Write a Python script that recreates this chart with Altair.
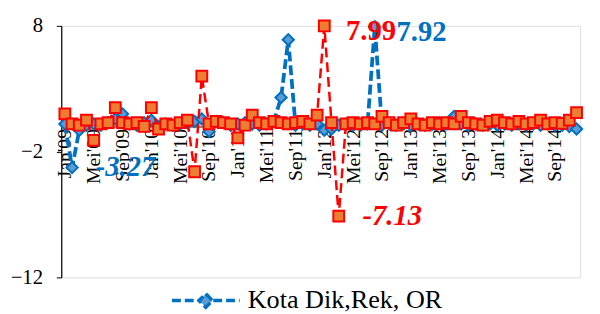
import json
import altair as alt
import pandas as pd

# ---- data -------------------------------------------------------------
month_names = ["Jan", "Feb", "Mar", "Apr", "Mei", "Jun", "Jul", "Agu", "Sep", "Okt", "Nov", "Des"]
years = ["09", "10", "11", "12", "13", "14"]
month_labels = [f"{m}'{y}" for y in years for m in month_names]
tick_positions = [0, 4, 8, 12, 16, 20, 24, 28, 32, 36, 40, 44, 48, 52, 56, 60, 64, 68]

blue_name = "Kota Dik,Rek, OR"
red_name = "Series 2"

blue_values = [0.2, -3.27, -0.3, 0.1, 0.2, 0.1, 0.3, 0.6, 1.0, 0.2, 0.1, 0.3,
               0.5, 0.0, 0.2, 0.1, 0.2, 0.3, 0.4, 0.6, -0.4, 0.4, 0.3, 0.1,
               0.2, 0.3, 0.2, 0.1, 0.2, 0.4, 2.3, 6.9, 0.1, 0.2, 0.1, 0.2,
               -0.3, -0.2, 0.1, 0.2, 0.1, 0.1, 0.2, 7.92, 0.1, 0.2, 0.1, 0.2,
               0.1, 0.2, 0.1, 0.2, 0.3, 0.2, 0.8, 0.2, 0.1, 0.2, 0.1, 0.2,
               0.1, 0.2, 0.1, 0.2, 0.1, 0.2, 0.1, 0.2, 0.1, 0.1, 0.0, -0.2]

red_values = [1.0, 0.2, 0.1, 0.5, -1.1, 0.2, 0.3, 1.5, 0.3, 0.2, 0.3, 0.0,
              1.5, -0.2, 0.2, 0.1, 0.3, 0.5, -3.6, 4.0, 0.2, 0.4, 0.3, 0.2,
              -0.9, 0.1, 0.9, 0.3, 0.2, 0.4, 0.3, 0.2, 0.3, 0.4, 0.2, 0.9,
              7.99, 0.3, -7.13, 0.2, 0.3, 0.2, 0.3, 0.2, 0.8, 0.3, 0.1, 0.3,
              0.6, 0.2, 0.1, 0.3, 0.2, 0.3, 0.2, 0.8, 0.3, 0.2, 0.1, 0.4,
              0.5, 0.3, 0.2, 0.4, 0.2, 0.3, 0.5, 0.2, 0.3, 0.25, 0.5, 1.1]

# annotated points: (series, index)
labels_pos = [(blue_name, 43), (red_name, 36)]
labels_neg = [(blue_name, 1), (red_name, 38)]

BLUE = "#0070C0"
BLUE_FILL = "#5B9BD5"
RED = "#FF0000"
ORANGE = "#ED7D31"
FONT = "Liberation Serif"

idx = list(range(len(month_labels)))
blue_df = pd.DataFrame({"idx": idx, "value": blue_values, "series": blue_name})
red_df = pd.DataFrame({"idx": idx, "value": red_values, "series": red_name})


def pick(pairs):
    rows = []
    for s, i in pairs:
        v = blue_values[i] if s == blue_name else red_values[i]
        rows.append({"idx": i, "value": v, "series": s, "label": f"{v:.2f}"})
    return pd.DataFrame(rows)


pos_df = pick(labels_pos)
neg_df = pick(labels_neg)

# ---- scales/axes ------------------------------------------------------
W, H = 526, 255
xscale = alt.Scale(domain=[-0.5, 71.5], nice=False, zero=False)
yscale = alt.Scale(domain=[-12, 8], nice=False, zero=False)
zero_off = -(H - H * 8 / 20)

x_axis = alt.Axis(
    values=tick_positions,
    labelExpr=json.dumps(month_labels) + "[datum.value]",
    labelAngle=-90, labelFont=FONT, labelFontSize=20, labelColor="black",
    labelPadding=2, tickSize=0, domainColor="black", domainWidth=1,
    grid=False, title=None, offset=zero_off, labelOverlap=False,
)
y_axis = alt.Axis(
    values=[-12, -2, 8], labelFont=FONT, labelFontSize=21, labelColor="black",
    tickSize=5, tickColor="black", domainColor="black", domainWidth=1.2,
    labelPadding=14, grid=False, title=None,
)

X = alt.X("idx:Q", scale=xscale, axis=x_axis)
Y = alt.Y("value:Q", scale=yscale, axis=y_axis)

legend_symbol = "M-1,0L-0.22,0M0.22,0L1,0M0,-0.2L0.2,0L0,0.2L-0.2,0Z"

blue_line = alt.Chart(blue_df).mark_line(
    strokeDash=[10, 4], strokeWidth=3.8
).encode(
    x=X, y=Y,
    color=alt.Color("series:N",
                    scale=alt.Scale(domain=[blue_name], range=[BLUE]),
                    legend=alt.Legend(
                        title=None, orient="none", legendX=110, legendY=242,
                        symbolType=legend_symbol, symbolSize=4700,
                        symbolStrokeWidth=3.5, symbolDash=[9, 4],
                        symbolFillColor=BLUE_FILL, symbolStrokeColor=BLUE,
                        labelFont=FONT, labelFontSize=26.5, labelColor="black",
                        labelLimit=0, labelOffset=6,
                    )),
)
blue_pts = alt.Chart(blue_df).mark_point(
    shape="diamond", filled=True, size=130, fill=BLUE_FILL, stroke=BLUE,
    strokeWidth=2, opacity=1
).encode(x=X, y=Y)

red_line = alt.Chart(red_df).mark_line(
    strokeDash=[10, 5], strokeWidth=2.5, color=RED
).encode(x=X, y=Y)
red_pts = alt.Chart(red_df).mark_square(
    size=120, fill=ORANGE, stroke=RED, strokeWidth=2, opacity=1
).encode(x=X, y=Y)

label_color = alt.Color("series:N",
                        scale=alt.Scale(domain=[blue_name, red_name], range=[BLUE, RED]),
                        legend=None)

pos_text = alt.Chart(pos_df).mark_text(
    align="left", baseline="middle", dx=22, dy=5, font=FONT, fontSize=29,
    fontWeight="bold"
).encode(x=X, y=Y, text="label:N", color=label_color)

neg_text = alt.Chart(neg_df).mark_text(
    align="left", baseline="middle", dx=24, dy=0, font=FONT, fontSize=29,
    fontWeight="bold", fontStyle="italic"
).encode(x=X, y=Y, text="label:N", color=label_color)

chart = alt.layer(blue_line, blue_pts, red_line, red_pts, pos_text, neg_text).resolve_scale(
    color="independent"
).properties(
    width=W, height=H,
    autosize=alt.AutoSizeParams(type="none"),
    padding={"left": 54, "top": 16, "right": 12, "bottom": 35},
).configure_view(strokeWidth=0).configure(background="white")

chart.save("out.html", embed_options={"renderer": "svg", "actions": False})
